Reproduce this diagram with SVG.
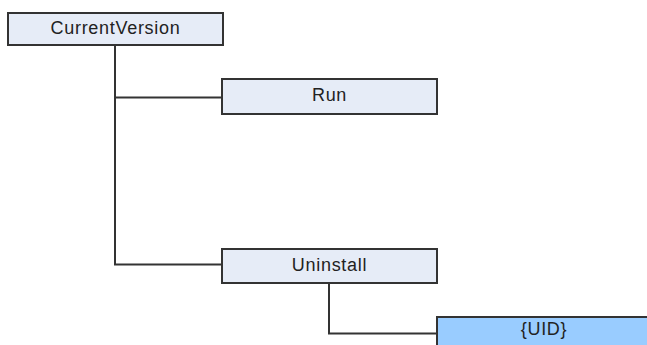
<svg xmlns="http://www.w3.org/2000/svg" width="647" height="345" viewBox="0 0 647 345">
<style>
.box{fill:#E6ECF7;stroke:#333;stroke-width:2}
.sel{fill:#99CCFF;stroke:#333;stroke-width:2}
.lbl{font-family:"Liberation Sans",Arial,sans-serif;font-size:18px;letter-spacing:0.7px;fill:#222;text-anchor:middle}
.conn{fill:none;stroke:#333;stroke-width:2}
</style>
<rect width="647" height="345" fill="#fff"/>
<g id="connectors">
<path class="conn" d="M115 45 V264.5 H222"/>
<path class="conn" d="M115 97.5 H222"/>
<path class="conn" d="M329 283 V333.5 H437"/>
</g>
<g id="node-currentversion">
<rect class="box" x="8" y="13" width="215" height="32"/>
<text class="lbl" x="115.5" y="34">CurrentVersion</text>
</g>
<g id="node-run">
<rect class="box" x="222" y="79" width="215" height="35"/>
<text class="lbl" x="329.5" y="101">Run</text>
</g>
<g id="node-uninstall">
<rect class="box" x="222" y="249" width="215" height="34"/>
<text class="lbl" x="329.5" y="271">Uninstall</text>
</g>
<g id="node-uid">
<rect class="sel" x="437" y="317" width="215" height="34"/>
<text class="lbl" x="544" y="335">{UID}</text>
</g>
</svg>
